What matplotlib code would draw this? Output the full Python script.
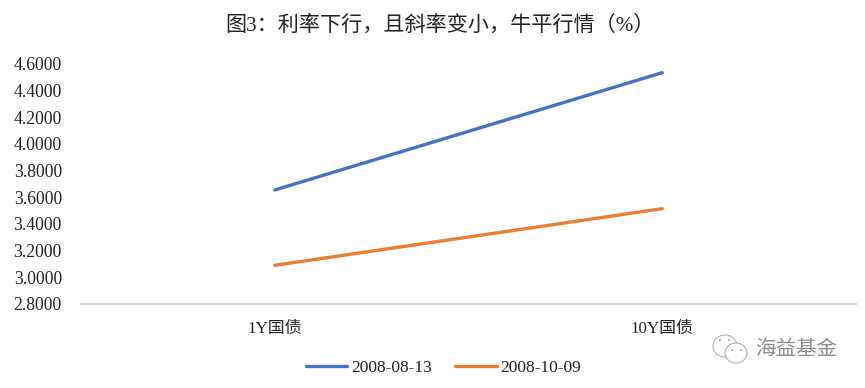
import matplotlib
matplotlib.use('Agg')
import matplotlib.pyplot as plt
from matplotlib.patches import Ellipse

plt.rcParams['font.family'] = ['Liberation Serif', 'Noto Sans CJK SC']

categories = ['1Y国债', '10Y国债']
series_names = ['2008-08-13', '2008-10-09']
values_a = [3.655, 4.535]
values_b = [3.09, 3.515]
yticks = [2.8, 3.0, 3.2, 3.4, 3.6, 3.8, 4.0, 4.2, 4.4, 4.6]

W, H = 865, 388
fig = plt.figure(figsize=(W / 100, H / 100), dpi=100)
ax = fig.add_axes([81 / W, 1 - 304 / H, 775 / W, 240 / H])

ax.plot([0, 1], values_a, color='#4472C4', lw=2.4, solid_capstyle='round', label=series_names[0])
ax.plot([0, 1], values_b, color='#ED7D31', lw=2.4, solid_capstyle='round', label=series_names[1])

ax.set_xlim(-0.5, 1.5)
ax.set_ylim(2.8, 4.6)
ax.set_xticks([0, 1])
ax.set_xticklabels(categories, fontsize=12.2, color='#222222')
ax.set_yticks(yticks)
ax.set_yticklabels(['%.4f' % v for v in yticks], fontsize=12.7, color='#222222')
ax.tick_params(length=0)
ax.tick_params(axis='x', pad=12)
ax.tick_params(axis='y', pad=13.7)

for s in ['top', 'right', 'left']:
    ax.spines[s].set_visible(False)
ax.spines['bottom'].set_color('#D9D9D9')
ax.spines['bottom'].set_linewidth(1.5)

fig.text(440 / W, 1 - 26 / H, '图3：利率下行，且斜率变小，牛平行情（%）',
         ha='center', va='center', fontsize=15.2, color='#222222')

ax.legend(loc='center', bbox_to_anchor=(443.5 / W, 1 - 368 / H), bbox_transform=fig.transFigure,
          ncol=2, frameon=False, fontsize=12.5, handlelength=2.4, handletextpad=0.23,
          columnspacing=1.32, labelcolor='#222222')

# watermark
fig.text(796 / W, 1 - 350 / H, '海益基金', ha='center', va='center', fontsize=14.8,
         color='#8C8C8C')
icon = fig.add_axes([0, 0, 1, 1], facecolor='none')
icon.set_xlim(0, W)
icon.set_ylim(H, 0)
icon.axis('off')
icon.add_patch(Ellipse((725, 346), 24, 22, fill=False, ec='#A6A6A6', lw=0.7))
icon.add_patch(Ellipse((736, 353), 22, 20, ec='#A6A6A6', lw=0.7, fc='white'))
for ex, ey in [(720, 340), (729, 340), (732, 350), (741, 350)]:
    icon.add_patch(Ellipse((ex, ey), 2, 2, fc='#A6A6A6', ec='none'))

fig.savefig('out.png', dpi=100, facecolor='white')
